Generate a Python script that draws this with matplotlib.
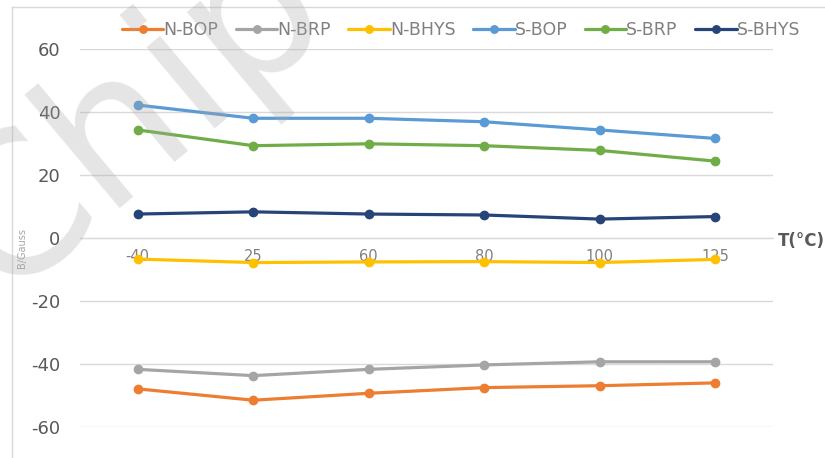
import matplotlib.pyplot as plt
from matplotlib.lines import Line2D

# --- data ---
temps = ['-40', '25', '60', '80', '100', '125']

n_bop = [-47.8, -51.4, -49.2, -47.4, -46.8, -45.9]
n_brp = [-41.6, -43.6, -41.6, -40.2, -39.2, -39.2]
n_bhys = [-6.6, -7.7, -7.5, -7.4, -7.7, -6.7]
s_bop = [42.3, 38.1, 38.1, 37.0, 34.4, 31.7]
s_brp = [34.4, 29.4, 30.0, 29.4, 27.9, 24.5]
s_bhys = [7.7, 8.4, 7.7, 7.4, 6.1, 6.9]

series = [
    ('N-BOP', n_bop, '#ED7D31'),
    ('N-BRP', n_brp, '#A5A5A5'),
    ('N-BHYS', n_bhys, '#FFC000'),
    ('S-BOP', s_bop, '#5B9BD5'),
    ('S-BRP', s_brp, '#70AD47'),
    ('S-BHYS', s_bhys, '#264478'),
]

plt.rcParams['font.family'] = ['DejaVu Sans']
plt.rcParams['axes.unicode_minus'] = False

W, H = 825, 458
fig = plt.figure(figsize=(W / 100, H / 100), dpi=100)
ax = fig.add_axes([80 / W, 1 - 427.3 / H, (773 - 80) / W, (427.3 - 49.3) / H])

x = list(range(len(temps)))
for name, vals, col in series:
    ax.plot(x, vals, color=col, lw=2.3, marker='o', ms=6, label=name,
            solid_capstyle='round')

ax.set_xlim(-0.5, len(temps) - 0.5)
ax.set_ylim(-60, 60)
ax.set_yticks(range(-60, 61, 20))
ax.grid(axis='y', color='#d9d9d9', lw=1)
ax.set_axisbelow(True)
for s in ['top', 'right', 'left']:
    ax.spines[s].set_visible(False)
ax.spines['bottom'].set_position(('data', 0))
ax.spines['bottom'].set_color('#d9d9d9')
ax.tick_params(axis='y', length=0, labelsize=13, labelcolor='#595959', pad=14)
ax.tick_params(axis='x', length=0, labelsize=10.5, labelcolor='#808080', pad=8)
ax.set_xticks(x)
ax.set_xticklabels(temps)

fig.text(778 / W, 1 - 241 / H, 'T(°C)', fontsize=12, color='#595959',
         fontweight='bold', va='center', ha='left')
fig.text(22 / W, 1 - 248 / H, 'B/Gauss', fontsize=7, color='#a6a6a6',
         rotation=90, va='center', ha='center')

leg = fig.legend(loc='center', bbox_to_anchor=(461 / W, 1 - 30 / H), ncol=6,
                 frameon=False, fontsize=12.5, handlelength=2.4,
                 handletextpad=0.0, columnspacing=1.0, markerscale=0.9)
for t in leg.get_texts():
    t.set_color('#808080')

# chart border (top and left visible in the crop)
fig.add_artist(Line2D([12 / W, 1], [1 - 7 / H, 1 - 7 / H], color='#d9d9d9', lw=1))
fig.add_artist(Line2D([12 / W, 12 / W], [0, 1 - 7 / H], color='#d9d9d9', lw=1))

# watermark
fig.text(-95 / W, 1 - 290 / H, 'Chip', fontsize=140, color='#a8a8a8', alpha=0.3,
         rotation=40, ha='left', va='baseline', zorder=10)

fig.savefig('out.png', dpi=100)
